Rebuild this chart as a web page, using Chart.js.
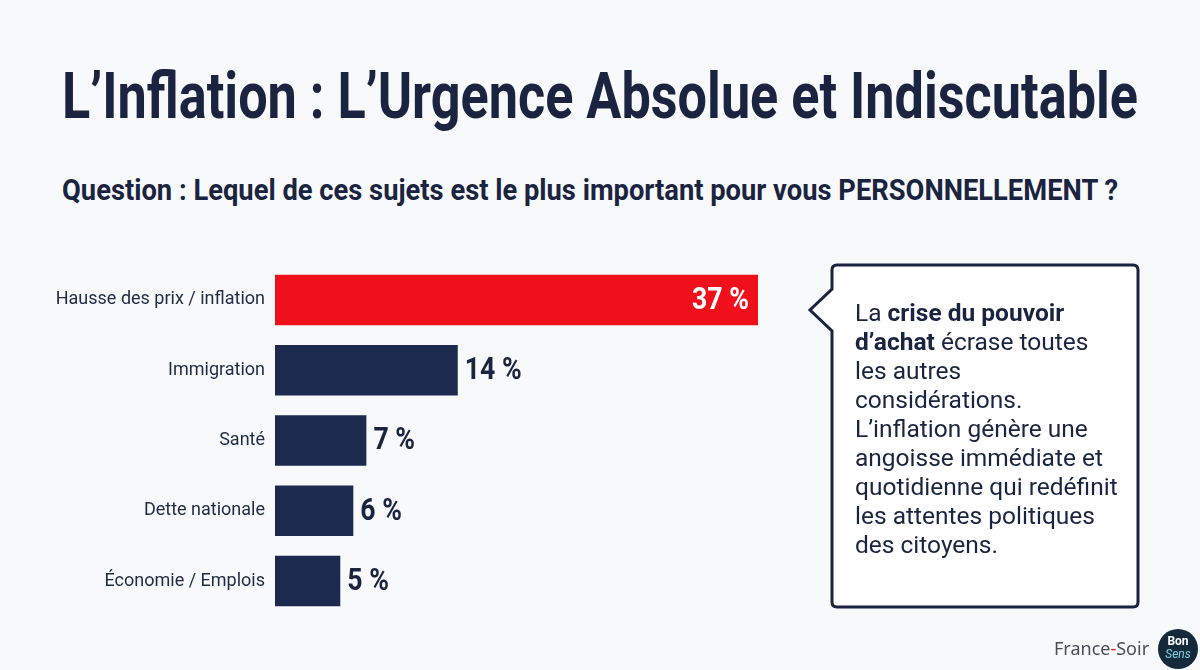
<!DOCTYPE html>
<html lang="fr">
<head>
<meta charset="utf-8">
<script src="https://cdn.jsdelivr.net/npm/chart.js@4.4.1/dist/chart.umd.min.js"></script>
<style>
  html, body { margin: 0; padding: 0; }
  body { width: 1200px; height: 670px; background: #f8f9fb; position: relative; overflow: hidden; font-family: Roboto, "Noto Sans", sans-serif; color: #1a2440; }
  .fit { position: absolute; white-space: nowrap; font-weight: 700; transform-origin: 0 50%; }
  #titre { left: 62px; top: 60px; font-size: 64px; line-height: 74px; }
  #question { left: 62px; top: 172px; font-size: 30px; line-height: 36px; }
  #zone { position: absolute; left: 0; top: 244px; width: 820px; height: 393px; }
  #bulle { position: absolute; left: 0; top: 0; }
  #texte { position: absolute; left: 855px; top: 298px; font-size: 24.5px; line-height: 29px; color: #1a2440; }
  #texte b { font-weight: 700; }
  #marque { position: absolute; left: 1054px; top: 636px; font-size: 18px; color: #4a4f57; font-family: "Noto Sans", sans-serif; }
  #marque span { color: #e3222b; }
  #logo { position: absolute; left: 1158px; top: 629px; width: 40px; height: 40px; border-radius: 50%; background: #142a3a; color: #fff; font-size: 12px; text-align: center; line-height: 13px; }
  #logo .b { display: block; margin-top: 6px; font-weight: 700; }
  #logo .s { display: block; color: #7fd3e6; font-style: italic; }
</style>
</head>
<body>
<div id="titre" class="fit" data-w="1076">L’Inflation : L’Urgence Absolue et Indiscutable</div>
<div id="question" class="fit" data-w="1056">Question : Lequel de ces sujets est le plus important pour vous PERSONNELLEMENT ?</div>

<div id="zone"><canvas id="graphique"></canvas></div>

<svg id="bulle" width="1200" height="670">
  <path d="M 837 265 H 1133 Q 1138 265 1138 270 V 602 Q 1138 607 1133 607 H 837 Q 832 607 832 602 V 331 L 810 310 L 832 289 V 270 Q 832 265 837 265 Z"
        fill="#ffffff" stroke="#1a2440" stroke-width="3" stroke-linejoin="miter"/>
</svg>
<div id="texte">La <b>crise du pouvoir</b><br><b>d’achat</b> écrase toutes<br>les autres<br>considérations.<br>L’inflation génère une<br>angoisse immédiate et<br>quotidienne qui redéfinit<br>les attentes politiques<br>des citoyens.</div>

<div id="marque">France<span>-</span>Soir</div>
<div id="logo"><span class="b">Bon</span><span class="s">Sens</span></div>

<script>
// données du sondage
const sujets = ['Hausse des prix / inflation', 'Immigration', 'Santé', 'Dette nationale', 'Économie / Emplois'];
const pourcentages = [37, 14, 7, 6, 5];
const couleurs = ['#f0101c', '#1b2a4e', '#1b2a4e', '#1b2a4e', '#1b2a4e'];

// resserre les titres comme une police condensée
document.querySelectorAll('.fit').forEach(el => {
    let largeur = el.getBoundingClientRect().width;
    el.style.transform = 'scaleX(' + (Number(el.dataset.w) / largeur) + ')';
});

const etiquettesValeurs = {
    id: 'etiquettesValeurs',
    afterDatasetsDraw(chart) {
        const ctx = chart.ctx;
        const meta = chart.getDatasetMeta(0);
        ctx.save();
        ctx.font = '700 31px Roboto';
        ctx.textBaseline = 'middle';
        meta.data.forEach((barre, i) => {
            let texte = pourcentages[i] + ' %';
            let interieur = i === 0;
            let largeur = ctx.measureText(texte).width * 0.86;
            let x = interieur ? barre.x - 9 - largeur : barre.x + 7;
            ctx.save();
            ctx.translate(x, barre.y + 1);
            ctx.scale(0.86, 1);
            ctx.fillStyle = interieur ? '#ffffff' : '#1a2440';
            ctx.textAlign = 'left';
            ctx.fillText(texte, 0, 0);
            ctx.restore();
        });
        ctx.restore();
    }
};

const graphique = new Chart(document.getElementById('graphique'), {
    type: 'bar',
    data: {
        labels: sujets,
        datasets: [{
            data: pourcentages,
            backgroundColor: couleurs,
            borderWidth: 0,
            categoryPercentage: 1,
            barPercentage: 0.72
        }]
    },
    options: {
        indexAxis: 'y',
        responsive: true,
        maintainAspectRatio: false,
        animation: false,
        layout: { padding: { top: 10, bottom: 12, left: 0, right: 62 } },
        plugins: { legend: { display: false }, tooltip: { enabled: false } },
        scales: {
            x: { display: false, min: 0, max: 37 },
            y: {
                grid: { display: false, drawTicks: false },
                border: { display: false },
                ticks: { color: '#1f2a44', padding: 10, font: { family: 'Roboto', size: 18 } },
                afterFit(scale) { scale.width = 275; }
            }
        }
    },
    plugins: [etiquettesValeurs]
});
</script>
</body>
</html>
